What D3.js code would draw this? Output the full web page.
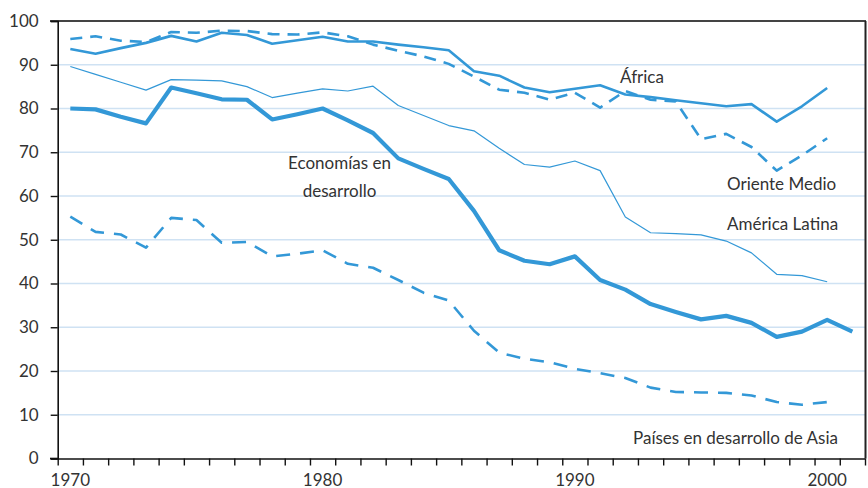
<!DOCTYPE html>
<html><head><meta charset="utf-8">
<script src="https://cdn.jsdelivr.net/npm/d3@7"></script>
<style>
html,body{margin:0;padding:0;background:#fff;}
svg{display:block;}
text{font-family:Lato,"Open Sans",sans-serif;fill:#333;}
</style></head>
<body>
<svg id="chart" width="868" height="488"></svg>
<script>
const years = d3.range(1970, 2002);
const yTicks = [0,10,20,30,40,50,60,70,80,90,100];
const xLabels = [1970, 1980, 1990, 2000];

const africa = [93.6,92.5,93.8,95.0,96.6,95.3,97.3,96.8,94.8,95.6,96.4,95.3,95.3,94.6,94.0,93.3,88.5,87.5,84.8,83.7,84.5,85.3,83.2,82.6,81.9,81.2,80.5,81.0,77.0,80.5,84.7,null];
const orienteMedio = [95.9,96.5,95.5,95.2,97.5,97.3,97.8,97.7,97.0,96.9,97.4,96.5,94.6,93.2,91.9,90.2,87.3,84.3,83.6,82.0,83.6,80.2,84.0,82.0,81.6,73.0,74.2,71.2,65.8,69.3,73.2,null];
const americaLatina = [89.6,87.8,86.0,84.2,86.6,86.5,86.3,85.0,82.5,83.5,84.5,84.0,85.1,80.7,78.4,76.1,74.9,70.9,67.2,66.6,68.0,65.8,55.2,51.6,51.4,51.1,49.7,47.0,42.1,41.8,40.4,null];
const economias = [80.0,79.8,78.1,76.6,84.8,83.5,82.1,82.0,77.5,78.7,80.0,77.3,74.4,68.6,66.2,63.9,56.6,47.6,45.2,44.4,46.2,40.8,38.6,35.3,33.5,31.8,32.6,31.0,27.8,29.0,31.7,29.0];
const asia = [55.3,51.8,51.2,48.2,55.0,54.5,49.3,49.5,46.2,46.8,47.6,44.5,43.6,40.8,37.9,36.1,29.2,24.2,22.8,22.0,20.5,19.5,18.4,16.2,15.2,15.1,15.0,14.4,12.9,12.3,12.9,null];

const seriesNames = ["África","Oriente Medio","América Latina","Economías en desarrollo","Países en desarrollo de Asia"];
const seriesValues = [africa, orienteMedio, americaLatina, economias, asia];
const seriesStyle = [
  {w:2.6, dash:null},
  {w:2.6, dash:"12,8"},
  {w:1.2, dash:null},
  {w:4.2, dash:null},
  {w:2.6, dash:"14,10"}
];
const labels = [
  {lines:["África"], x:620, y:83, anchor:"start"},
  {lines:["Oriente Medio"], x:727, y:190, anchor:"start"},
  {lines:["América Latina"], x:727, y:230, anchor:"start"},
  {lines:["Economías en","desarrollo"], x:339.5, y:169, anchor:"middle"},
  {lines:["Países en desarrollo de Asia"], x:633, y:444, anchor:"start"}
];

const color = "#3398d7";
const svg = d3.select("#chart");
const x = d3.scaleLinear().domain([1970, 2002]).range([57.7, 865]);
const y = d3.scaleLinear().domain([0, 100]).range([458.5, 21]);

// grid
svg.append("g").selectAll("line").data(yTicks.filter(d => d > 0 && d < 100)).join("line")
  .attr("x1", 57.7).attr("x2", 865).attr("y1", d => y(d)).attr("y2", d => y(d))
  .attr("stroke", "#cfe2f3").attr("stroke-width", 1.5);

// top & right frame
svg.append("line").attr("x1", 50).attr("x2", 866).attr("y1", y(100)).attr("y2", y(100))
  .attr("stroke", "#444").attr("stroke-width", 2);
svg.append("line").attr("x1", 865.5).attr("x2", 865.5).attr("y1", y(100)).attr("y2", y(0))
  .attr("stroke", "#222").attr("stroke-width", 2);

// y axis
const yAxis = svg.append("g").attr("transform", "translate(57.7,0)")
  .call(d3.axisLeft(y).tickValues(yTicks).tickSize(7).tickPadding(12).tickFormat(d3.format("d")));
yAxis.select(".domain").attr("stroke", "#111").attr("stroke-width", 1.6);
yAxis.selectAll(".tick line").attr("stroke", "#111").attr("stroke-width", 1.4);
yAxis.selectAll(".tick text").style("font-family", "Lato").style("font-size", "17px").attr("fill", "#333");

// x axis
const xAxis = svg.append("g").attr("transform", `translate(0,${y(0)})`)
  .call(d3.axisBottom(x).tickValues(d3.range(1970, 2003)).tickSize(7).tickSizeOuter(0).tickFormat(""));
xAxis.select(".domain").attr("stroke", "#111").attr("stroke-width", 1.6);
xAxis.selectAll(".tick line").attr("stroke", "#111").attr("stroke-width", 1.4);
svg.append("line").attr("x1", 50).attr("x2", 58).attr("y1", y(0)).attr("y2", y(0)).attr("stroke", "#111").attr("stroke-width", 1.6);
svg.append("g").selectAll("text").data(xLabels).join("text")
  .attr("x", d => x(d + 0.5)).attr("y", 485.5).attr("text-anchor", "middle")
  .style("font-size", "17px").text(d => d);

// lines
const line = d3.line().x(d => x(d[0] + 0.5)).y(d => y(d[1]));
seriesValues.forEach((vals, i) => {
  const pts = years.map((yr, j) => [yr, vals[j]]).filter(p => p[1] != null);
  const p = svg.append("path").datum(pts).attr("d", line)
    .attr("fill", "none").attr("stroke", color)
    .attr("stroke-width", seriesStyle[i].w).attr("stroke-linejoin", "round");
  if (seriesStyle[i].dash) p.attr("stroke-dasharray", seriesStyle[i].dash);
});

// labels
labels.forEach(l => {
  const t = svg.append("text").attr("text-anchor", l.anchor).style("font-size", "17px");
  l.lines.forEach((s, k) => t.append("tspan").attr("x", l.x).attr("y", l.y + k * 28).text(s));
});
</script>
</body></html>
